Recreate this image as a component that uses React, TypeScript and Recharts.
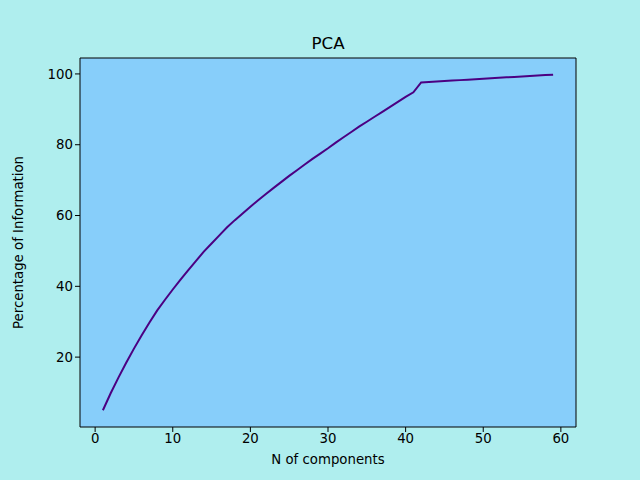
import { LineChart, Line, XAxis, YAxis, ReferenceArea, Label } from "recharts";

const components = Array.from({ length: 59 }, (_, i) => i + 1);
const information = [
  5, 9.8, 14.2, 18.4, 22.4, 26.2, 29.8, 33.2, 36.2, 39.1,
  41.9, 44.6, 47.2, 49.8, 52.1, 54.4, 56.7, 58.7, 60.6, 62.5,
  64.3, 66.1, 67.8, 69.5, 71.2, 72.8, 74.4, 76.0, 77.5, 79.0,
  80.6, 82.1, 83.6, 85.1, 86.5, 87.9, 89.3, 90.7, 92.1, 93.5,
  94.8, 97.6, 97.73, 97.86, 97.99, 98.12, 98.25, 98.38, 98.51, 98.64,
  98.77, 98.9, 99.03, 99.16, 99.29, 99.42, 99.55, 99.68, 99.8,
];
const xTicks = [0, 10, 20, 30, 40, 50, 60];
const yTicks = [20, 40, 60, 80, 100];

const data = components.map((n, i) => ({ n, info: information[i] }));
const XMIN = -1.95, XMAX = 61.95, YMIN = 0.26, YMAX = 104.5;
const tick = { fill: "#000", fontSize: 13.3 };

export default function App() {
  return (
    <div style={{ position: "absolute", left: 0, top: 0, background: "#AFEEEE", fontFamily: "DejaVu Sans" }}>
      <LineChart width={640} height={480} data={data} margin={{ top: 58, right: 64, bottom: 0, left: 0 }}>
        <text x={328} y={49} textAnchor="middle" fontSize={16.7} fill="#000">PCA</text>
        <XAxis dataKey="n" type="number" domain={[XMIN, XMAX]} ticks={xTicks} allowDataOverflow
          height={53} tick={tick} tickSize={5} stroke="#000" axisLine={false}>
          <Label value="N of components" position="insideTop" offset={28} fill="#000" fontSize={13.3} />
        </XAxis>
        <YAxis type="number" domain={[YMIN, YMAX]} ticks={yTicks} allowDataOverflow
          width={80} tick={tick} tickSize={5} stroke="#000" axisLine={false}>
          <Label value="Percentage of Information" angle={-90} position="insideLeft" offset={18} dy={0}
            style={{ textAnchor: "middle" }} fill="#000" fontSize={13.3} />
        </YAxis>
        <ReferenceArea x1={XMIN} x2={XMAX} y1={YMIN} y2={YMAX} fill="#87CEFA" fillOpacity={1} stroke="#000" strokeWidth={1} />
        <Line dataKey="info" stroke="#4B0082" strokeWidth={2} dot={false} type="linear" isAnimationActive={false} />
      </LineChart>
    </div>
  );
}
